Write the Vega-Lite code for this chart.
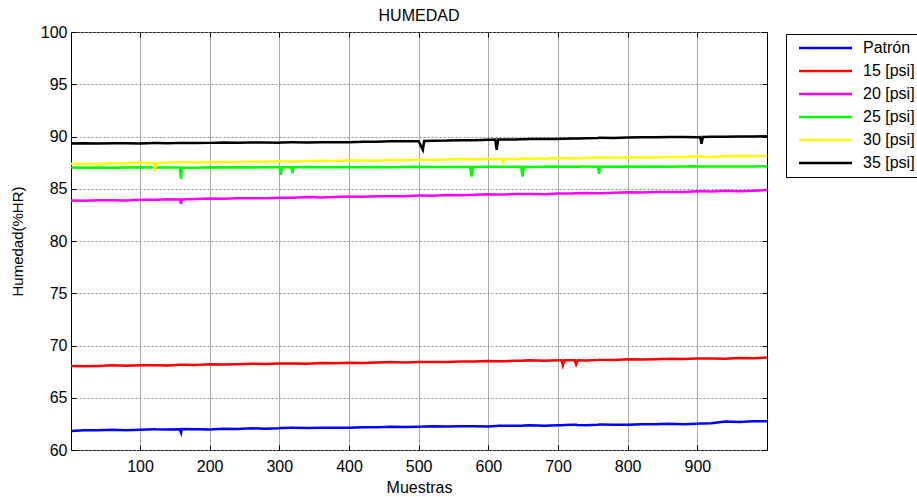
{
  "$schema": "https://vega.github.io/schema/vega-lite/v6.json",
  "width": 696,
  "height": 418,
  "autosize": {"type": "none"},
  "padding": {"left": 71, "top": 32, "right": 150, "bottom": 47},
  "background": "white",
  "title": {"text": "HUMEDAD", "font": "Liberation Sans", "fontSize": 16, "fontWeight": "normal", "color": "black", "anchor": "middle", "offset": 0},
  "config": {
    "view": {"stroke": "black", "strokeWidth": 1},
    "axis": {"labelFont": "Liberation Sans", "labelFontSize": 16, "labelColor": "black", "titleFont": "Liberation Sans", "titleFontSize": 16, "titleFontWeight": "normal", "titleColor": "black", "domain": false, "ticks": true, "tickSize": -5, "tickColor": "black", "tickWidth": 1}
  },
  "data": {"values": [
    {"x":1,"p":61.83,"a":68.04,"b":83.87,"c":87.03,"d":87.40,"e":89.32},
    {"x":20,"p":61.89,"a":68.01,"b":83.84,"c":87.01,"d":87.40,"e":89.35},
    {"x":40,"p":61.88,"a":68.05,"b":83.89,"c":87.04,"d":87.38,"e":89.33},
    {"x":60,"p":61.93,"a":68.10,"b":83.89,"c":87.01,"d":87.45,"e":89.35},
    {"x":80,"p":61.90,"a":68.06,"b":83.88,"c":87.03,"d":87.43,"e":89.35},
    {"x":100,"p":61.94,"a":68.11,"b":83.95,"c":87.05,"d":87.49,"e":89.34},
    {"x":120,"p":61.99,"a":68.11,"b":83.94,"c":87.03,"d":87.45,"e":89.37},
    {"x":121,"p":61.99,"a":68.11,"b":83.94,"c":87.03,"d":86.65,"e":89.37},
    {"x":123,"p":61.98,"a":68.11,"b":83.95,"c":87.03,"d":87.46,"e":89.37},
    {"x":140,"p":61.95,"a":68.09,"b":84.00,"c":87.04,"d":87.50,"e":89.36},
    {"x":157,"p":61.99,"a":68.15,"b":83.97,"c":87.04,"d":87.53,"e":89.39},
    {"x":159,"p":61.65,"a":68.15,"b":83.55,"c":85.95,"d":87.53,"e":89.39},
    {"x":160,"p":62.00,"a":68.16,"b":83.97,"c":87.04,"d":87.54,"e":89.39},
    {"x":180,"p":61.99,"a":68.14,"b":84.02,"c":87.02,"d":87.51,"e":89.37},
    {"x":200,"p":61.97,"a":68.20,"b":84.07,"c":87.05,"d":87.55,"e":89.39},
    {"x":220,"p":62.04,"a":68.17,"b":84.04,"c":87.04,"d":87.55,"e":89.42},
    {"x":240,"p":62.02,"a":68.21,"b":84.09,"c":87.06,"d":87.53,"e":89.40},
    {"x":260,"p":62.08,"a":68.26,"b":84.09,"c":87.04,"d":87.60,"e":89.42},
    {"x":280,"p":62.04,"a":68.22,"b":84.08,"c":87.06,"d":87.58,"e":89.42},
    {"x":300,"p":62.09,"a":68.27,"b":84.15,"c":87.07,"d":87.64,"e":89.41},
    {"x":302,"p":62.10,"a":68.27,"b":84.15,"c":86.33,"d":87.63,"e":89.42},
    {"x":304,"p":62.11,"a":68.27,"b":84.15,"c":87.06,"d":87.62,"e":89.43},
    {"x":317,"p":62.12,"a":68.27,"b":84.14,"c":87.05,"d":87.61,"e":89.44},
    {"x":319,"p":62.12,"a":68.27,"b":84.14,"c":86.50,"d":87.61,"e":89.44},
    {"x":320,"p":62.13,"a":68.27,"b":84.14,"c":87.05,"d":87.60,"e":89.44},
    {"x":340,"p":62.10,"a":68.25,"b":84.20,"c":87.07,"d":87.65,"e":89.43},
    {"x":360,"p":62.14,"a":68.32,"b":84.17,"c":87.06,"d":87.69,"e":89.46},
    {"x":380,"p":62.13,"a":68.30,"b":84.22,"c":87.05,"d":87.66,"e":89.44},
    {"x":400,"p":62.12,"a":68.36,"b":84.27,"c":87.08,"d":87.70,"e":89.46},
    {"x":420,"p":62.18,"a":68.33,"b":84.24,"c":87.06,"d":87.70,"e":89.50},
    {"x":440,"p":62.17,"a":68.37,"b":84.29,"c":87.09,"d":87.68,"e":89.50},
    {"x":460,"p":62.22,"a":68.42,"b":84.29,"c":87.06,"d":87.75,"e":89.54},
    {"x":480,"p":62.19,"a":68.38,"b":84.28,"c":87.08,"d":87.73,"e":89.55},
    {"x":500,"p":62.23,"a":68.43,"b":84.35,"c":87.10,"d":87.79,"e":89.55},
    {"x":506,"p":62.24,"a":68.43,"b":84.35,"c":87.09,"d":87.78,"e":88.73},
    {"x":508,"p":62.25,"a":68.43,"b":84.35,"c":87.09,"d":87.77,"e":89.57},
    {"x":520,"p":62.27,"a":68.43,"b":84.34,"c":87.08,"d":87.75,"e":89.60},
    {"x":540,"p":62.24,"a":68.41,"b":84.40,"c":87.09,"d":87.80,"e":89.61},
    {"x":560,"p":62.28,"a":68.48,"b":84.37,"c":87.09,"d":87.84,"e":89.65},
    {"x":574,"p":62.28,"a":68.47,"b":84.40,"c":87.08,"d":87.82,"e":89.64},
    {"x":576,"p":62.28,"a":68.47,"b":84.40,"c":86.17,"d":87.82,"e":89.64},
    {"x":578,"p":62.28,"a":68.47,"b":84.41,"c":87.07,"d":87.82,"e":89.64},
    {"x":580,"p":62.28,"a":68.46,"b":84.42,"c":87.07,"d":87.81,"e":89.64},
    {"x":600,"p":62.26,"a":68.52,"b":84.47,"c":87.10,"d":87.85,"e":89.68},
    {"x":610,"p":62.30,"a":68.50,"b":84.45,"c":87.10,"d":87.85,"e":89.70},
    {"x":612,"p":62.30,"a":68.50,"b":84.45,"c":87.10,"d":87.85,"e":88.73},
    {"x":614,"p":62.31,"a":68.50,"b":84.45,"c":87.10,"d":87.85,"e":89.71},
    {"x":620,"p":62.33,"a":68.49,"b":84.44,"c":87.09,"d":87.85,"e":89.72},
    {"x":621,"p":62.33,"a":68.49,"b":84.44,"c":87.09,"d":87.55,"e":89.72},
    {"x":623,"p":62.32,"a":68.50,"b":84.45,"c":87.10,"d":87.84,"e":89.72},
    {"x":640,"p":62.31,"a":68.53,"b":84.49,"c":87.11,"d":87.83,"e":89.72},
    {"x":647,"p":62.33,"a":68.55,"b":84.49,"c":87.10,"d":87.86,"e":89.73},
    {"x":649,"p":62.33,"a":68.55,"b":84.49,"c":86.17,"d":87.86,"e":89.73},
    {"x":651,"p":62.34,"a":68.56,"b":84.49,"c":87.10,"d":87.87,"e":89.74},
    {"x":660,"p":62.37,"a":68.58,"b":84.49,"c":87.09,"d":87.90,"e":89.76},
    {"x":680,"p":62.33,"a":68.54,"b":84.48,"c":87.11,"d":87.88,"e":89.77},
    {"x":700,"p":62.37,"a":68.59,"b":84.55,"c":87.12,"d":87.94,"e":89.77},
    {"x":705,"p":62.38,"a":68.59,"b":84.55,"c":87.11,"d":87.93,"e":89.78},
    {"x":707,"p":62.38,"a":68.10,"b":84.55,"c":87.11,"d":87.93,"e":89.78},
    {"x":709,"p":62.39,"a":68.59,"b":84.55,"c":87.11,"d":87.93,"e":89.79},
    {"x":720,"p":62.42,"a":68.59,"b":84.54,"c":87.10,"d":87.90,"e":89.82},
    {"x":724,"p":62.41,"a":68.58,"b":84.56,"c":87.11,"d":87.91,"e":89.82},
    {"x":726,"p":62.41,"a":68.20,"b":84.56,"c":87.11,"d":87.91,"e":89.82},
    {"x":728,"p":62.40,"a":68.58,"b":84.57,"c":87.11,"d":87.92,"e":89.82},
    {"x":740,"p":62.38,"a":68.57,"b":84.60,"c":87.12,"d":87.95,"e":89.83},
    {"x":757,"p":62.42,"a":68.62,"b":84.58,"c":87.11,"d":87.98,"e":89.86},
    {"x":759,"p":62.43,"a":68.63,"b":84.58,"c":86.43,"d":87.98,"e":89.87},
    {"x":760,"p":62.43,"a":68.64,"b":84.57,"c":87.11,"d":87.99,"e":89.87},
    {"x":761,"p":62.43,"a":68.63,"b":84.58,"c":87.11,"d":87.99,"e":89.87},
    {"x":780,"p":62.42,"a":68.62,"b":84.62,"c":87.10,"d":87.96,"e":89.86},
    {"x":800,"p":62.41,"a":68.68,"b":84.67,"c":87.13,"d":88.00,"e":89.90},
    {"x":820,"p":62.47,"a":68.65,"b":84.64,"c":87.11,"d":88.00,"e":89.93},
    {"x":840,"p":62.46,"a":68.69,"b":84.69,"c":87.14,"d":87.98,"e":89.92},
    {"x":860,"p":62.51,"a":68.74,"b":84.69,"c":87.11,"d":88.05,"e":89.95},
    {"x":880,"p":62.47,"a":68.70,"b":84.68,"c":87.13,"d":88.03,"e":89.95},
    {"x":900,"p":62.52,"a":68.75,"b":84.75,"c":87.15,"d":88.09,"e":89.94},
    {"x":904,"p":62.53,"a":68.75,"b":84.75,"c":87.14,"d":88.08,"e":89.95},
    {"x":906,"p":62.53,"a":68.75,"b":84.75,"c":87.14,"d":88.08,"e":89.30},
    {"x":908,"p":62.53,"a":68.75,"b":84.75,"c":87.14,"d":88.07,"e":89.96},
    {"x":920,"p":62.55,"a":68.75,"b":84.74,"c":87.13,"d":88.05,"e":89.98},
    {"x":940,"p":62.72,"a":68.73,"b":84.80,"c":87.14,"d":88.10,"e":89.98},
    {"x":960,"p":62.68,"a":68.80,"b":84.77,"c":87.14,"d":88.14,"e":90.01},
    {"x":980,"p":62.74,"a":68.78,"b":84.82,"c":87.12,"d":88.11,"e":89.99},
    {"x":1000,"p":62.76,"a":68.84,"b":84.87,"c":87.15,"d":88.15,"e":90.02}
  ]},
  "transform": [{"fold": ["p", "a", "b", "c", "d", "e"], "as": ["s", "y"]}],
  "layer": [
    {
      "mark": {"type": "line", "strokeWidth": 2.5, "clip": true},
      "encoding": {
        "x": {"field": "x", "type": "quantitative",
          "scale": {"domain": [1, 1000], "nice": false, "zero": false},
          "axis": {"orient": "bottom", "values": [100, 200, 300, 400, 500, 600, 700, 800, 900], "title": "Muestras", "labelPadding": 13, "titlePadding": 5, "grid": true, "gridColor": "#a8a8a8", "gridWidth": 1}},
        "y": {"field": "y", "type": "quantitative",
          "scale": {"domain": [60, 100], "nice": false, "zero": false},
          "axis": {"orient": "left", "values": [60, 65, 70, 75, 80, 85, 90, 95, 100], "title": "Humedad(%HR)", "titleFontSize": 15, "labelPadding": 9, "titlePadding": 15, "grid": true, "gridColor": "#8c8c8c", "gridDash": [2, 2], "gridWidth": 1}},
        "color": {"field": "s", "type": "nominal",
          "scale": {"domain": ["p", "a", "b", "c", "d", "e"], "range": ["#0000ff", "#ff0000", "#ff00ff", "#00ff00", "#ffff00", "#000000"]},
          "legend": {"title": null, "orient": "none", "legendX": 715, "legendY": 2,
            "labelExpr": "{'p':'Patrón','a':'15 [psi]','b':'20 [psi]','c':'25 [psi]','d':'30 [psi]','e':'35 [psi]'}[datum.value]",
            "strokeColor": "black", "fillColor": "white", "padding": 6, "cornerRadius": 0,
            "symbolType": "M-5.3,0H5.3", "symbolSize": 100, "symbolStrokeWidth": 2.5, "symbolOffset": 25.5,
            "labelFont": "Liberation Sans", "labelFontSize": 16, "labelColor": "black", "labelOffset": 29.5, "rowPadding": 7}}
      }
    },
    {
      "mark": {"type": "line", "opacity": 0, "strokeWidth": 1},
      "encoding": {
        "x": {"field": "x", "type": "quantitative",
          "axis": {"orient": "top", "values": [100, 200, 300, 400, 500, 600, 700, 800, 900], "title": null, "labels": false, "grid": false}},
        "y": {"field": "y", "type": "quantitative",
          "axis": {"orient": "right", "values": [60, 65, 70, 75, 80, 85, 90, 95, 100], "title": null, "labels": false, "grid": false}},
        "detail": {"field": "s"}
      }
    }
  ],
  "resolve": {"axis": {"x": "independent", "y": "independent"}}
}
